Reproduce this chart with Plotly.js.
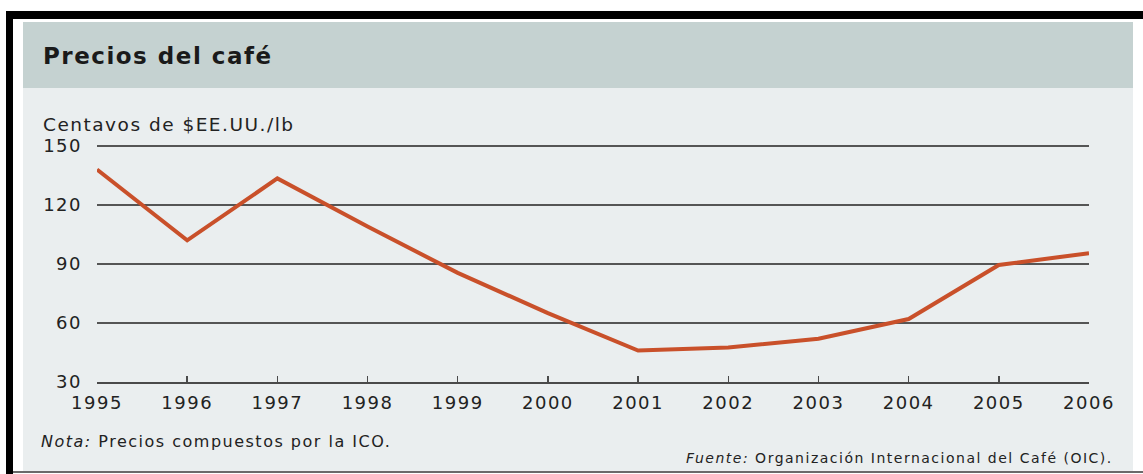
<!DOCTYPE html>
<html>
<head>
<meta charset="utf-8">
<script src="https://cdn.plot.ly/plotly-3.0.1.min.js"></script>
<style>
  html, body { margin: 0; padding: 0; background: #ffffff; }
  #chart { width: 1143px; height: 474px; }
  svg text { letter-spacing: 1.5px; }
</style>
</head>
<body>
<div id="chart"></div>
<script>
// ---- Data ----
var years = [1995, 1996, 1997, 1998, 1999, 2000, 2001, 2002, 2003, 2004, 2005, 2006];
var prices = [138, 102, 133.5, 109, 85.5, 65, 46, 47.5, 52, 62, 89.5, 95.5];
var yTicks = [30, 60, 90, 120, 150];
var titleText = "Precios del café";
var unitText = "Centavos de $EE.UU./lb";
var noteText = "<i>Nota:</i> Precios compuestos por la ICO.";
var sourceText = "<i>Fuente:</i> Organización Internacional del Café (OIC).";

// ---- Geometry (pixel frame of the plot area) ----
var FW = 1143, FH = 474;
var L = 97, R = 1089, T = 144, B = 382;
var W = R - L, H = B - T;
function px(x) { return (x - L) / W; }
function py(y) { return (B - y) / H; }

function rect(x0, y0, x1, y1, color) {
  return { type: 'rect', xref: 'paper', yref: 'paper', layer: 'below',
    x0: px(x0), x1: px(x1), y0: py(y1), y1: py(y0),
    fillcolor: color, line: { width: 0 } };
}

var shapes = [
  rect(6, 11, FW, 19, '#000000'),          // top black bar
  rect(6, 11, 13, FH, '#000000'),          // left black bar
  rect(23, 22, 1133, 471, '#eaeeef'),      // panel
  rect(23, 22, 1133, 88, '#c5d2d1'),       // title band
  { type: 'line', xref: 'paper', yref: 'paper', layer: 'below',
    x0: px(13), x1: px(FW), y0: py(472), y1: py(472),
    line: { color: '#6a6a6a', width: 2 } }
];

var font = "'DejaVu Sans', 'Liberation Sans', Arial, sans-serif";

var annotations = [
  { text: '<b>' + titleText + '</b>', xref: 'paper', yref: 'paper', x: px(41), y: py(56),
    xanchor: 'left', yanchor: 'middle', align: 'left', showarrow: false,
    font: { family: font, size: 23, color: '#1a1a1a' } },
  { text: unitText, xref: 'paper', yref: 'paper', x: px(41), y: py(124),
    xanchor: 'left', yanchor: 'middle', align: 'left', showarrow: false,
    font: { family: font, size: 18.5, color: '#222222' } },
  { text: noteText, xref: 'paper', yref: 'paper', x: px(39), y: py(441),
    xanchor: 'left', yanchor: 'middle', align: 'left', showarrow: false,
    font: { family: font, size: 16, color: '#222222' } },
  { text: sourceText, xref: 'paper', yref: 'paper', x: px(1115), y: py(458),
    xanchor: 'right', yanchor: 'middle', align: 'right', showarrow: false,
    font: { family: font, size: 14, color: '#222222' } }
];

var trace = {
  type: 'scatter', mode: 'lines', x: years, y: prices,
  line: { color: '#c9502a', width: 4 },
  hoverinfo: 'x+y'
};

var layout = {
  width: FW, height: FH,
  margin: { l: L, r: FW - R, t: T, b: FH - B, pad: 0 },
  paper_bgcolor: '#ffffff',
  plot_bgcolor: 'rgba(0,0,0,0)',
  showlegend: false,
  font: { family: font, size: 16, color: '#222222' },
  xaxis: {
    range: [1995, 2006], tickvals: years, ticktext: years.map(String),
    showgrid: false, zeroline: false,
    showline: true, linecolor: '#4a4a4a', linewidth: 1.5,
    ticks: 'inside', ticklen: 6, tickwidth: 1.5, tickcolor: '#4a4a4a',
    ticklabelstandoff: 4,
    tickfont: { family: font, size: 18, color: '#222222' },
    fixedrange: true
  },
  yaxis: {
    range: [30, 151], tickvals: yTicks, ticktext: yTicks.map(String),
    showgrid: true, gridcolor: '#555555', gridwidth: 1.6,
    zeroline: false, showline: false, ticks: '',
    ticklabelstandoff: 14,
    tickfont: { family: font, size: 18, color: '#222222' },
    fixedrange: true
  },
  shapes: shapes,
  annotations: annotations
};

Plotly.newPlot('chart', [trace], layout, { displayModeBar: false, staticPlot: true });
</script>
</body>
</html>
